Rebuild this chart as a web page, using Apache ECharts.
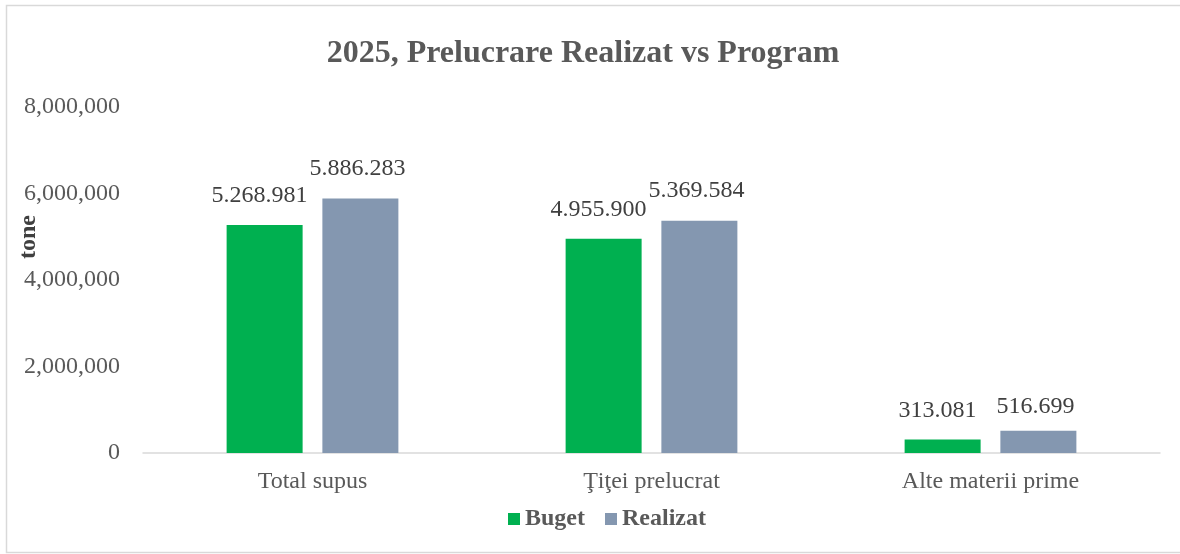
<!DOCTYPE html>
<html>
<head>
<meta charset="utf-8">
<script src="https://cdn.jsdelivr.net/npm/echarts@6/dist/echarts.min.js"></script>
<style>
html,body{margin:0;padding:0;background:#fff;}
#chart{width:1180px;height:554px;}
</style>
</head>
<body>
<div id="chart"></div>
<script>
const titleText = "2025, Prelucrare Realizat vs Program";
const categories = ["Total supus", "Ţiţei prelucrat", "Alte materii prime"];
const seriesNames = ["Buget", "Realizat"];
const buget = [5268981, 4955900, 313081];
const realizat = [5886283, 5369584, 516699];
const yTicks = [0, 2000000, 4000000, 6000000, 8000000];
const yAxisName = "tone";

const FONT = "'Liberation Serif','Times New Roman',serif";
function dotFmt(v){ return String(v).replace(/\B(?=(\d{3})+(?!\d))/g, "."); }
function commaFmt(v){ return String(v).replace(/\B(?=(\d{3})+(?!\d))/g, ","); }

const labelBase = {show:true, position:'top', fontFamily:FONT, fontSize:24, color:'#404040', formatter:p=>dotFmt(p.value)};

const chart = echarts.init(document.getElementById('chart'), null, {renderer:'canvas'});
chart.setOption({
  animation:false,
  backgroundColor:'#ffffff',
  title:{
    text:titleText, left:578, textAlign:'center', top:33,
    textStyle:{fontFamily:FONT, fontSize:32, fontWeight:'bold', color:'#595959'}
  },
  legend:{
    data:seriesNames, bottom:18, left:503,
    itemWidth:12, itemHeight:12, itemGap:20, icon:'rect',
    textStyle:{fontFamily:FONT, fontSize:24, fontWeight:'bold', color:'#595959'}
  },
  grid:{left:143, right:20, top:107, bottom:101, containLabel:false},
  xAxis:{
    type:'category', data:categories,
    axisLine:{show:true, lineStyle:{color:'#d9d9d9', width:1.5}},
    axisTick:{show:false},
    axisLabel:{fontFamily:FONT, fontSize:24, color:'#595959', margin:17}
  },
  yAxis:{
    type:'value', min:yTicks[0], max:yTicks[yTicks.length-1], interval:yTicks[1]-yTicks[0],
    axisLine:{show:false}, axisTick:{show:false},
    splitLine:{show:false},
    axisLabel:{fontFamily:FONT, fontSize:24, color:'#595959', margin:23, formatter:commaFmt}
  },
  graphic:[
    {type:'rect', shape:{x:6.5, y:5.5, width:1180, height:547}, style:{fill:'none', stroke:'#d9d9d9', lineWidth:1.5}, silent:true},
    {type:'text', x:29, y:237, rotation:Math.PI/2,
      style:{text:yAxisName, fontFamily:FONT, fontSize:24, fontWeight:'bold', fill:'#404040', textAlign:'center', textVerticalAlign:'middle'}}
  ],
  series:[
    {name:seriesNames[0], type:'bar', data:buget, barWidth:76, barGap:'26%',
      itemStyle:{color:'#00b050'},
      label:Object.assign({}, labelBase, {distance:17, offset:[-5,0]})},
    {name:seriesNames[1], type:'bar',
      data:realizat.map((v,i)=> i===2 ? {value:v, label:{distance:12}} : v),
      barWidth:76,
      itemStyle:{color:'#8497b0'},
      label:Object.assign({}, labelBase, {distance:18, offset:[-3,0]})}
  ]
});
</script>
</body>
</html>
